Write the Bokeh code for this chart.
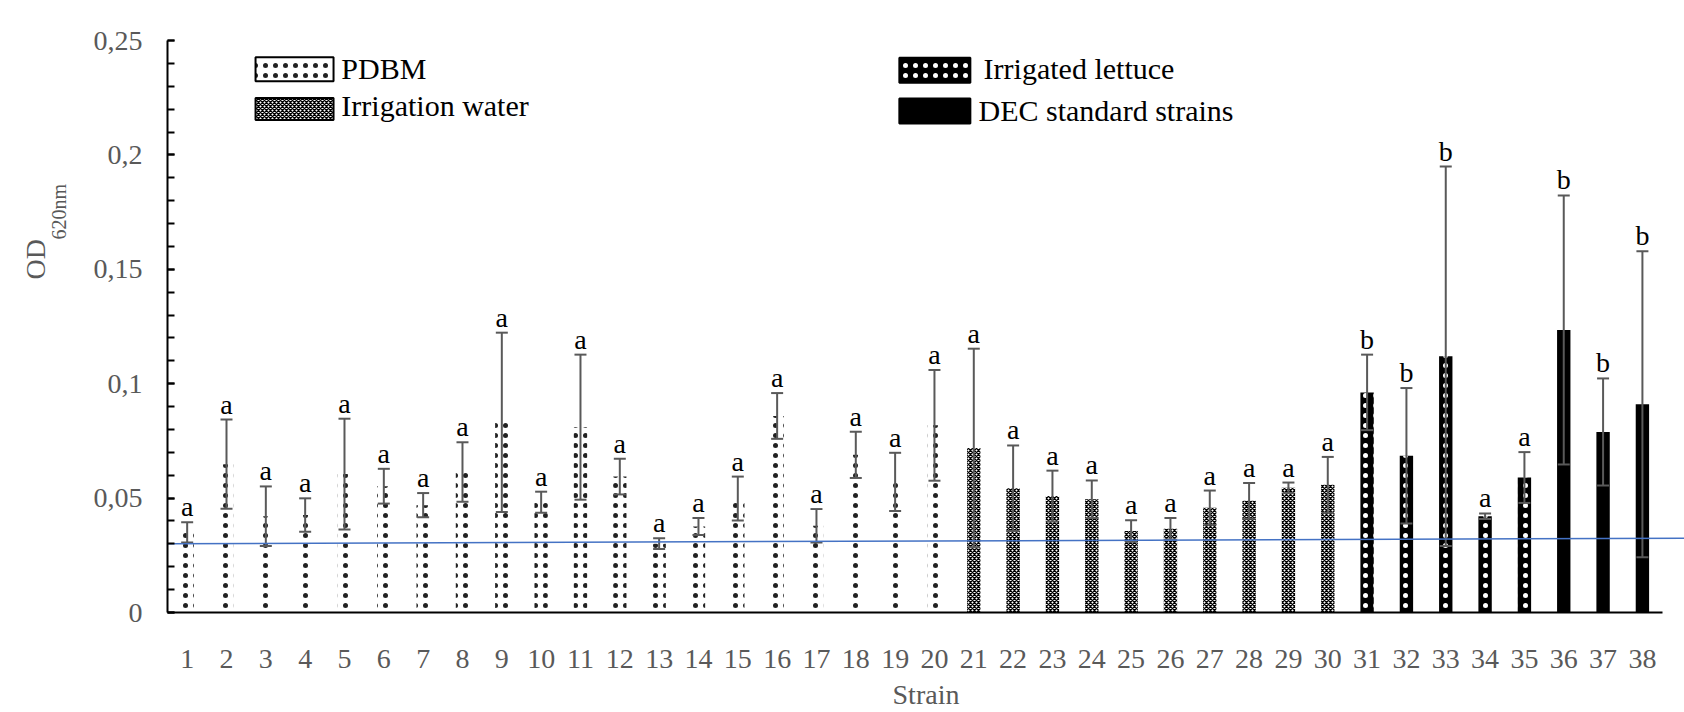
from bokeh.plotting import figure
from bokeh.models import ColumnDataSource, FixedTicker, Range1d, Title
from bokeh.embed import file_html
from bokeh.resources import INLINE
from bokeh.core.properties import value

# ---------------- data ----------------
strains = list(range(1, 39))
groups = (["PDBM"] * 20 + ["Irrigation water"] * 10 +
          ["Irrigated lettuce"] * 5 + ["DEC standard strains"] * 3)
means = [0.0350, 0.0648, 0.0421, 0.0426, 0.0605, 0.0552, 0.0469, 0.0614, 0.0831, 0.0482,
         0.0810, 0.0594, 0.0301, 0.0376, 0.0498, 0.0859, 0.0379, 0.0689, 0.0571, 0.0818,
         0.0719, 0.0543, 0.0509, 0.0495, 0.0356, 0.0366, 0.0458, 0.0488, 0.0545, 0.0558,
         0.0962, 0.0685, 0.1120, 0.0421, 0.0590, 0.1235, 0.0789, 0.0910]
sds = [0.0044, 0.0195, 0.0130, 0.0073, 0.0242, 0.0076, 0.0053, 0.0130, 0.0392, 0.0046,
       0.0317, 0.0078, 0.0024, 0.0037, 0.0096, 0.0100, 0.0073, 0.0101, 0.0127, 0.0242,
       0.0434, 0.0187, 0.0111, 0.0082, 0.0047, 0.0047, 0.0075, 0.0078, 0.0023, 0.0122,
       0.0165, 0.0296, 0.0829, 0.0012, 0.0111, 0.0588, 0.0234, 0.0669]
letters = ["a"] * 30 + ["b", "b", "b", "a", "a", "b", "b", "b"]
cutoff_x = [0.5, 39.09]
cutoff_y = [0.0300, 0.0325]
y_ticks = [0, 0.05, 0.1, 0.15, 0.2, 0.25]
y_tick_labels = ["0", "0,05", "0,1", "0,15", "0,2", "0,25"]
y_minor = [i / 100 for i in range(0, 26)]
group_names = ["PDBM", "Irrigation water", "Irrigated lettuce", "DEC standard strains"]

# legend layout (keys and labels, placed in the upper part of the plot)
legend_key_x = [3.73, 3.73, 20.01, 20.01]
legend_key_y = [0.2374, 0.2201, 0.2370, 0.2192]
legend_key_w = [78, 78, 71, 71]
legend_key_h = [24, 22, 25, 25]
legend_text_x = [4.92, 4.92, 21.25, 21.12]
legend_text_y = [0.2377, 0.2214, 0.2377, 0.2196]

SERIF = "Liberation Serif"
GREY = "#595959"

styles = {
    "PDBM": dict(fill_color="white", hatch_pattern="dot", hatch_color="#222222",
                 hatch_scale=10, hatch_weight=0.3),
    "Irrigation water": dict(fill_color="white", hatch_pattern="diagonal_cross",
                             hatch_color="black", hatch_scale=4, hatch_weight=1.4),
    "Irrigated lettuce": dict(fill_color="black", hatch_pattern="dot", hatch_color="white",
                              hatch_scale=10, hatch_weight=0.7),
    "DEC standard strains": dict(fill_color="black", hatch_pattern=None),
}

p = figure(width=1684, height=712, output_backend="svg", toolbar_location=None,
           x_range=Range1d(0.5, 39.07), y_range=Range1d(0, 0.25),
           min_border_left=167, min_border_right=0, min_border_top=40,
           min_border_bottom=89)
p.outline_line_color = None
p.xgrid.grid_line_color = None
p.ygrid.grid_line_color = None
p.background_fill_color = "white"

for g in group_names:
    idx = [i for i, gg in enumerate(groups) if gg == g]
    src = ColumnDataSource(dict(x=[strains[i] for i in idx], top=[means[i] for i in idx]))
    p.vbar(x="x", top="top", width=0.34, source=src, line_color=None, **styles[g])

# error bars (mean +/- sd)
upper = [m + s for m, s in zip(means, sds)]
lower = [m - s for m, s in zip(means, sds)]
err_src = ColumnDataSource(dict(x=strains, upper=upper, lower=lower, letter=letters))
p.segment(x0="x", y0="lower", x1="x", y1="upper", source=err_src,
          line_color=GREY, line_width=2)
p.scatter(x="x", y="upper", source=err_src, marker="dash", size=12,
          line_color=GREY, line_width=2)
p.scatter(x="x", y="lower", source=err_src, marker="dash", size=12,
          line_color=GREY, line_width=2)

# significance letters
p.text(x="x", y="upper", text="letter", source=err_src, text_align="center",
       text_baseline="bottom", text_font=value(SERIF),
       text_font_size="28px", text_color="black")

# cutoff line
p.line(cutoff_x, cutoff_y, line_color="#4472C4", line_width=1.5)

# legend (keys + labels)
for i, g in enumerate(group_names):
    p.rect(x=[legend_key_x[i]], y=[legend_key_y[i]], width=legend_key_w[i],
           height=legend_key_h[i], width_units="screen", height_units="screen",
           line_color="black", line_width=2, **styles[g])
leg_src = ColumnDataSource(dict(x=legend_text_x, y=legend_text_y, t=group_names))
p.text(x="x", y="y", text="t", source=leg_src, text_align="left",
       text_baseline="alphabetic", text_font=value(SERIF),
       text_font_size="30px", text_color="black")

# axes
p.xaxis.ticker = FixedTicker(ticks=strains)
p.xaxis.bounds = (0.5, 38.5)
p.xaxis.axis_line_color = "black"
p.xaxis.axis_line_width = 2
p.xaxis.major_tick_line_color = None
p.xaxis.minor_tick_line_color = None
p.xaxis.major_label_text_font = SERIF
p.xaxis.major_label_text_font_size = "28px"
p.xaxis.major_label_text_color = GREY
p.xaxis.major_label_standoff = 31
p.xaxis.axis_label = "Strain"
p.xaxis.axis_label_text_font = SERIF
p.xaxis.axis_label_text_font_size = "28px"
p.xaxis.axis_label_text_font_style = "normal"
p.xaxis.axis_label_text_color = GREY
p.xaxis.axis_label_standoff = 8

p.yaxis.ticker = FixedTicker(ticks=y_ticks, minor_ticks=y_minor)
p.yaxis.major_label_overrides = {t: l for t, l in zip(y_ticks, y_tick_labels)}
p.yaxis.axis_line_color = "black"
p.yaxis.axis_line_width = 2
p.yaxis.major_tick_in = 7
p.yaxis.major_tick_out = 0
p.yaxis.minor_tick_in = 7
p.yaxis.minor_tick_out = 0
p.yaxis.major_tick_line_width = 2
p.yaxis.minor_tick_line_width = 2
p.yaxis.major_tick_line_color = "black"
p.yaxis.minor_tick_line_color = "black"
p.yaxis.major_label_text_font = SERIF
p.yaxis.major_label_text_font_size = "28px"
p.yaxis.major_label_text_color = GREY
p.yaxis.major_label_standoff = 25

# y axis title OD620nm: two side titles (subscript part closer to the plot)
p.add_layout(Title(text="620nm", align="left", offset=373, standoff=41,
                   text_font=SERIF, text_font_size="20px", text_font_style="normal",
                   text_color=GREY), "left")
p.add_layout(Title(text="OD", align="left", offset=333, standoff=-51,
                   text_font=SERIF, text_font_size="28px", text_font_style="normal",
                   text_color=GREY), "left")

open("out.html", "w").write(file_html(p, INLINE))
